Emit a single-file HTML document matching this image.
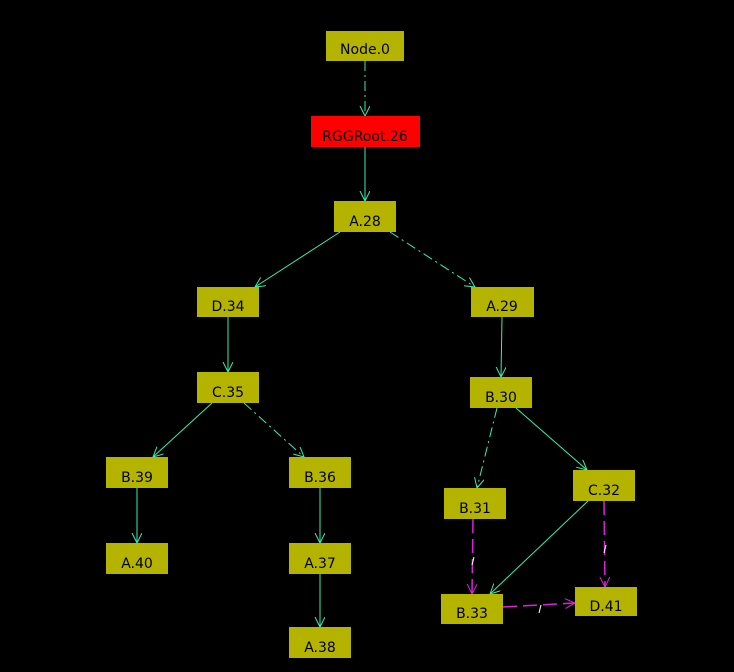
<!DOCTYPE html>
<html><head><meta charset="utf-8"><style>
html,body{margin:0;padding:0;background:#000;}
svg{display:block}
text{font-family:"DejaVu Sans","Liberation Sans",sans-serif;font-size:14px;fill:#000;text-anchor:middle}
</style></head><body>
<svg width="734" height="672" viewBox="0 0 734 672" xmlns="http://www.w3.org/2000/svg">
<defs>
<marker id="g" markerWidth="12" markerHeight="12" refX="10" refY="5" orient="auto" markerUnits="userSpaceOnUse"><path d="M0,0 L10,5 L0,10" fill="none" stroke="#33f0b0" stroke-width="1"/></marker>
<marker id="m" markerWidth="12" markerHeight="12" refX="10" refY="5" orient="auto" markerUnits="userSpaceOnUse"><path d="M0,0 L10,5 L0,10" fill="none" stroke="#e020e0" stroke-width="1"/></marker>
</defs>
<g stroke="#33f0b0" stroke-width="1" fill="none" marker-end="url(#g)">
<line x1="365" y1="61" x2="365" y2="116" stroke-dasharray="10,4,2,4"/>
<line x1="365" y1="147" x2="365" y2="201"/>
<line x1="340" y1="232" x2="255" y2="287"/>
<line x1="390" y1="232" x2="475" y2="287" stroke-dasharray="10,4,2,4"/>
<line x1="228" y1="317" x2="228" y2="372"/>
<line x1="502" y1="317" x2="501" y2="377"/>
<line x1="212" y1="403" x2="153" y2="457"/>
<line x1="244" y1="403" x2="304" y2="457" stroke-dasharray="10,4,2,4"/>
<line x1="497" y1="408" x2="477" y2="488" stroke-dasharray="10,4,2,4"/>
<line x1="516" y1="408" x2="587" y2="470"/>
<line x1="137" y1="488" x2="137" y2="543"/>
<line x1="320" y1="488" x2="320" y2="543"/>
<line x1="320" y1="574" x2="320" y2="627"/>
<line x1="588" y1="501" x2="490" y2="594"/>
</g>
<g stroke="#e020e0" stroke-width="1.5" fill="none" marker-end="url(#m)" stroke-dasharray="14,6">
<line x1="473" y1="519" x2="472" y2="594"/>
<line x1="604" y1="501" x2="605" y2="587"/>
<line x1="503" y1="607" x2="575" y2="603"/>
</g>
<g stroke="#fff" stroke-width="1">
<line x1="474" y1="557" x2="472" y2="565"/>
<line x1="606" y1="545" x2="604" y2="553"/>
<line x1="541" y1="605" x2="539" y2="613"/>
</g>
<g fill="#b4b400">
<rect x="326" y="31" width="78" height="30"/>
<rect x="334" y="201" width="62" height="31"/>
<rect x="197" y="287" width="62" height="30"/>
<rect x="471" y="287" width="63" height="30"/>
<rect x="197" y="372" width="62" height="31"/>
<rect x="470" y="377" width="62" height="31"/>
<rect x="106" y="457" width="62" height="31"/>
<rect x="289" y="457" width="62" height="31"/>
<rect x="444" y="488" width="62" height="31"/>
<rect x="573" y="470" width="62" height="31"/>
<rect x="106" y="543" width="62" height="31"/>
<rect x="289" y="543" width="62" height="31"/>
<rect x="441" y="594" width="62" height="30"/>
<rect x="575" y="587" width="62" height="29"/>
<rect x="289" y="627" width="62" height="31"/>
</g>
<rect x="311" y="116" width="109" height="31" fill="#ff0000"/>
<text x="365" y="54">Node.0</text>
<text x="365" y="141">RGGRoot.26</text>
<text x="365" y="226">A.28</text>
<text x="228" y="311">D.34</text>
<text x="502" y="311">A.29</text>
<text x="228" y="397">C.35</text>
<text x="501" y="402">B.30</text>
<text x="137" y="482">B.39</text>
<text x="320" y="482">B.36</text>
<text x="475" y="513">B.31</text>
<text x="604" y="495">C.32</text>
<text x="137" y="568">A.40</text>
<text x="320" y="568">A.37</text>
<text x="472" y="618">B.33</text>
<text x="606" y="611">D.41</text>
<text x="320" y="652">A.38</text>
</svg>
</body></html>
